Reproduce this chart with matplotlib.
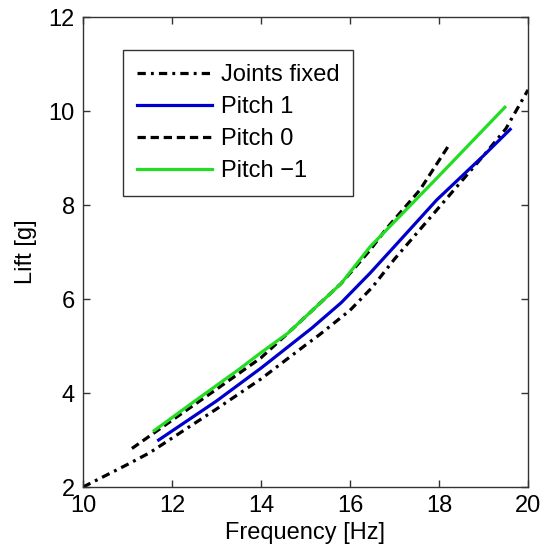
import matplotlib
matplotlib.use("Agg")
import matplotlib.pyplot as plt

plt.rcParams['font.family'] = ['Liberation Sans', 'DejaVu Sans']

# lift vs flapping frequency
freq_fixed = [10.0, 11.0, 11.5, 12.0, 13.0, 14.0, 15.0, 15.3, 16.0, 16.5, 17.0, 17.5, 18.0, 19.0, 19.5, 20.0]
lift_fixed = [2.0, 2.48, 2.73, 3.04, 3.66, 4.30, 5.02, 5.23, 5.76, 6.25, 6.85, 7.40, 7.95, 9.05, 9.62, 10.45]

freq_p1 = [11.7, 13.0, 14.0, 15.14, 15.8, 16.45, 17.0, 17.95, 19.0, 19.6]
lift_p1 = [3.0, 3.83, 4.53, 5.38, 5.92, 6.55, 7.12, 8.11, 9.05, 9.61]

freq_p0 = [11.1, 12.0, 13.0, 14.0, 14.6, 15.8, 16.45, 16.82, 17.57, 18.2]
lift_p0 = [2.82, 3.42, 4.08, 4.75, 5.27, 6.33, 7.04, 7.50, 8.32, 9.24]

freq_m1 = [11.6, 12.5, 13.5, 14.0, 14.6, 15.8, 16.45, 18.0, 19.48]
lift_m1 = [3.2, 3.82, 4.5, 4.86, 5.27, 6.33, 7.11, 8.62, 10.08]

fig = plt.figure(figsize=(5.47, 5.58), dpi=100)
ax = fig.add_axes([0.1517, 0.1272, 0.8136, 0.8423])

lw = 2.3
ax.plot(freq_fixed, lift_fixed, color='black', lw=lw, dashes=[2.6, 1.6, 0.9, 1.6], label='Joints fixed')
ax.plot(freq_p1, lift_p1, color='#0000cc', lw=lw, label='Pitch 1')
ax.plot(freq_p0, lift_p0, color='black', lw=lw, dashes=[2.6, 1.5], label='Pitch 0')
ax.plot(freq_m1, lift_m1, color='#22dd22', lw=lw, label='Pitch \u22121')

ax.set_xlim(10, 20)
ax.set_ylim(2, 12)
ax.set_xticks([10, 12, 14, 16, 18, 20])
ax.set_yticks([2, 4, 6, 8, 10, 12])

for s in ax.spines.values():
    s.set_color('#333333')
    s.set_linewidth(1.0)
ax.tick_params(direction='in', length=5, width=1, color='#333333',
               top=True, right=True, labelsize=17)
ax.tick_params(axis='x', pad=6)
ax.tick_params(axis='y', pad=6)

ax.set_xlabel('Frequency [Hz]', fontsize=17, labelpad=3)
ax.set_ylabel('Lift [g]', fontsize=17, labelpad=8)

leg = ax.legend(loc='upper left', bbox_to_anchor=(0.089, 0.93), fontsize=17,
                handlelength=3.2, handletextpad=0.35, borderpad=0.6,
                labelspacing=0.42, fancybox=False, framealpha=1,
                edgecolor='#333333', borderaxespad=0)
leg.get_frame().set_linewidth(1.0)

fig.savefig('out.png', dpi=100)
